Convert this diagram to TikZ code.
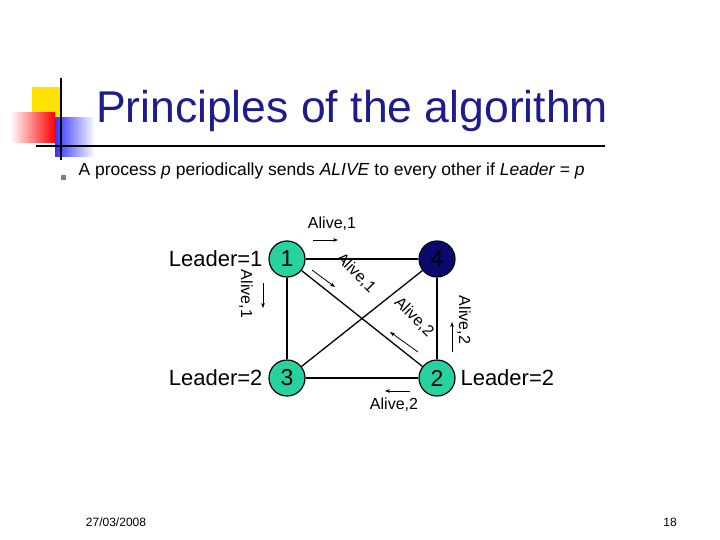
\documentclass[tikz,border=0pt]{standalone}
\usepackage{fontspec}
\setmainfont{Liberation Sans}
\usetikzlibrary{arrows.meta}
\definecolor{titleblue}{RGB}{28,28,140}
\definecolor{procgreen}{RGB}{40,210,160}
\definecolor{procnavy}{RGB}{10,10,110}
\tikzset{
  proc/.style={circle, draw, line width=1.2pt, minimum size=36pt, inner sep=0pt, font=\fontsize{23}{23}\selectfont},
  lead/.style={font=\fontsize{22}{22}\selectfont},
  msg/.style={font=\fontsize{16}{16}\selectfont, inner sep=1pt},
  link/.style={line width=1.3pt},
  sig/.style={-{Stealth[length=5pt]}, line width=0.8pt}
}
\begin{document}
\begin{tikzpicture}[x=1pt,y=-1pt]
                \useasboundingbox (0,0) rectangle (720,540);
                % Logo
                \fill[yellow!85!orange] (32,87) rectangle (62,118);
                \shade[left color=white, right color=red] (10,113) rectangle (55,143);
                \shade[left color=blue!80, right color=white] (55,118) rectangle (95,157);
                \draw[line width=1.5pt] (61,78) -- (61,160);
                \draw[line width=1.5pt] (36,146) -- (605,146);

                % Title and text
                \node[titleblue, font=\fontsize{44.5}{44.5}\selectfont] (title) at (352,111) {Principles of the algorithm};
                \fill[gray] (60.5,175.5) rectangle (65.5,180.5);
                \node[anchor=west, font=\fontsize{17.5}{17.5}\selectfont] (rule) at (75,171)
                  {A process \textit{p} periodically sends \textit{ALIVE} to every other if \textit{Leader} = \textit{p}};

                % Links
                \node[proc, fill=procgreen] (p1) at (287,259) {1};
                \node[proc, fill=procnavy] (p4) at (437,259) {4};
                \node[proc, fill=procgreen] (p3) at (287,378) {3};
                \node[proc, fill=procgreen] (p2) at (437,378) {2};
                \draw[link] (p1) -- (p4);
                \draw[link] (p1) -- (p3);
                \draw[link] (p1) -- (p2);
                \draw[link] (p3) -- (p4);
                \draw[link] (p3) -- (p2);
                \draw[link] (p4) -- (p2);

                % Leaders
                \node[lead, anchor=east] (l1) at (266,259) {Leader=1};
                \node[lead, anchor=east] (l3) at (266,378) {Leader=2};
                \node[lead, anchor=west] (l2) at (457,378) {Leader=2};

                % Messages
                \node[msg] (m14) at (332,224) {Alive,1};
                \draw[sig] (313,240) -- (338,240);
                \node[msg, rotate=-90] (m13) at (246,294) {Alive,1};
                \draw[sig] (263,283) -- (263,308);
                \node[msg, rotate=-45] (m12) at (356,273) {Alive,1};
                \draw[sig] (312,270) -- (335,287);
                \node[msg, rotate=-45] (m21) at (414,317) {Alive,2};
                \draw[sig] (418,352) -- (390,332);
                \node[msg, rotate=-90] (m24) at (464,320) {Alive,2};
                \draw[sig] (452,352) -- (452,322);
                \node[msg] (m23) at (394,405) {Alive,2};
                \draw[sig] (410,391) -- (385,391);

                % Footer
                \node[font=\fontsize{12}{12}\selectfont] (date) at (116,522) {27/03/2008};
                \node[font=\fontsize{12}{12}\selectfont] (page) at (670,522) {18};
\end{tikzpicture}
\end{document}
